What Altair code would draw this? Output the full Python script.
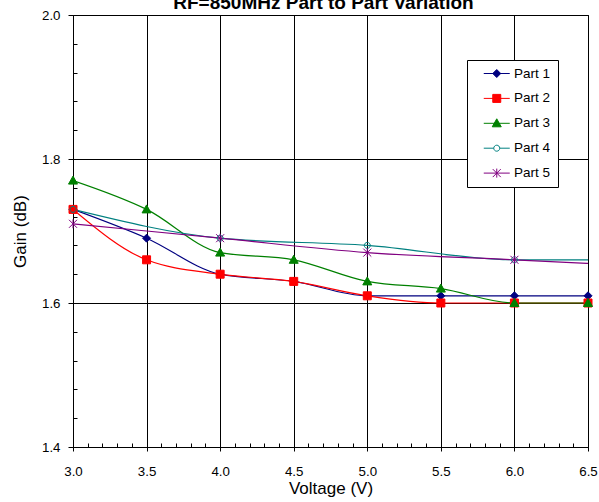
import altair as alt
import pandas as pd

# ---- data ----
volts_a = [3.0, 3.5, 4.0, 4.5, 5.0, 5.5, 6.0, 6.5]
part1 = [1.73, 1.69, 1.64, 1.63, 1.61, 1.61, 1.61, 1.61]
part2 = [1.73, 1.66, 1.64, 1.63, 1.61, 1.60, 1.60, 1.60]
part3 = [1.77, 1.73, 1.67, 1.66, 1.63, 1.62, 1.60, 1.60]
volts_b = [3.0, 4.0, 5.0, 6.0, 7.0]
part4 = [1.73, 1.69, 1.68, 1.66, 1.66]
part5 = [1.71, 1.69, 1.67, 1.66, 1.65]

parts = ["Part 1", "Part 2", "Part 3", "Part 4", "Part 5"]
strokes = ["#000080", "#FF0000", "#008000", "#008080", "#800080"]
fills = ["#000080", "#FF0000", "#008000", "transparent", "#800080"]
legend_fills = ["#000080", "#FF0000", "#008000", "#FFFFFF", "#800080"]

major_x = [3.0, 3.5, 4.0, 4.5, 5.0, 5.5, 6.0, 6.5]
minor_x = [round(3.0 + 0.1 * i, 1) for i in range(36) if i % 5 != 0]
major_y = [1.4, 1.6, 1.8, 2.0]
minor_y = [round(1.4 + 0.04 * i, 2) for i in range(16) if i % 5 != 0]

# marker glyphs (unit paths)
diamond = "M0,-0.8L0.8,0L0,0.8L-0.8,0Z"
square = "M-0.8,-0.8H0.8V0.8H-0.8Z"
triangle = "M0,-0.9L0.9,0.7H-0.9Z"
circle = "M-0.6,0A0.6,0.6 0 1,0 0.6,0A0.6,0.6 0 1,0 -0.6,0Z"
asterisk = "M-0.8,-0.8L0.8,0.8M-0.8,0.8L0.8,-0.8M0,-0.9V0.9"
marker_paths = [diamond, square, triangle, circle, asterisk]
seg = "M-2.6,0H2.6"
legend_paths = [seg + diamond, seg + square, seg + triangle,
                "M-2.6,0H-0.6M0.6,0H2.6" + circle, seg + asterisk]

rows = []
for name, xs, ys in [("Part 1", volts_a, part1), ("Part 2", volts_a, part2),
                     ("Part 3", volts_a, part3), ("Part 4", volts_b, part4),
                     ("Part 5", volts_b, part5)]:
    for xv, yv in zip(xs, ys):
        rows.append({"Voltage": xv, "Gain": yv, "Part": name})
df = pd.DataFrame(rows)

FONT = "Liberation Sans"
x_scale = alt.Scale(domain=[3.0, 6.5], nice=False, zero=False)
y_scale = alt.Scale(domain=[1.4, 2.0], nice=False, zero=False)


def sscale():
    return alt.Scale(domain=parts, range=strokes)


lines = alt.Chart(df).mark_line(interpolate="monotone", strokeWidth=1.2, clip=True).encode(
    x=alt.X("Voltage:Q", scale=x_scale,
            axis=alt.Axis(orient="bottom", values=major_x, format=".1f", title="Voltage (V)",
                          grid=True, gridColor="black", gridOpacity=1, gridWidth=1,
                          domain=False, ticks=True, tickSize=4, tickColor="black",
                          labelFont=FONT, labelFontSize=13.3, labelColor="black",
                          labelPadding=13, labelFlush=False, labelOverlap=False,
                          titleFont=FONT, titleFontSize=17, titleFontWeight="normal",
                          titleColor="black", titlePadding=3)),
    y=alt.Y("Gain:Q", scale=y_scale,
            axis=alt.Axis(orient="left", values=major_y, format=".1f", title="Gain (dB)",
                          grid=True, gridColor="black", gridOpacity=1, gridWidth=1,
                          domain=False, ticks=True, tickSize=5, tickColor="black",
                          labelFont=FONT, labelFontSize=13.3, labelColor="black",
                          labelPadding=8, labelFlush=False, labelOverlap=False,
                          titleFont=FONT, titleFontSize=17, titleFontWeight="normal",
                          titleColor="black", titlePadding=12)),
    stroke=alt.Stroke("Part:N", scale=sscale(), legend=None),
)

points = alt.Chart(df).transform_filter("datum.Voltage <= 6.5").mark_point(
    size=100, opacity=1, strokeWidth=1
).encode(
    x=alt.X("Voltage:Q", scale=x_scale,
            axis=alt.Axis(orient="bottom", values=minor_x, labels=False, grid=False,
                          domain=False, ticks=True, tickSize=4, tickColor="black",
                          offset=-4, title=None)),
    y=alt.Y("Gain:Q", scale=y_scale,
            axis=alt.Axis(orient="left", values=minor_y, labels=False, grid=False,
                          domain=False, ticks=True, tickSize=4, tickColor="black",
                          offset=-4, title=None)),
    stroke=alt.Stroke("Part:N", scale=sscale(), legend=None),
    fill=alt.Fill("Part:N", scale=alt.Scale(domain=parts, range=fills), legend=None),
    shape=alt.Shape("Part:N", scale=alt.Scale(domain=parts, range=marker_paths), legend=None),
)

legend = alt.Legend(
    title=None, orient="none", legendX=394, legendY=45, direction="vertical",
    fillColor="white", strokeColor="black", padding=7,
    labelFont=FONT, labelFontSize=13.5, labelColor="black",
    symbolSize=100, symbolStrokeWidth=1, symbolOffset=16, labelOffset=10.5,
    symbolOpacity=1, rowPadding=10.9, clipHeight=13,
    labelExpr="datum.label + '\u00a0\u00a0'",
)

legend_layer = alt.Chart(df).transform_filter("false").mark_point(
    size=100, opacity=1, strokeWidth=1
).encode(
    x=alt.X("Voltage:Q", scale=x_scale, axis=None),
    y=alt.Y("Gain:Q", scale=y_scale, axis=None),
    stroke=alt.Stroke("Part:N", scale=sscale(), legend=legend),
    fill=alt.Fill("Part:N", scale=alt.Scale(domain=parts, range=legend_fills), legend=legend),
    shape=alt.Shape("Part:N", scale=alt.Scale(domain=parts, range=legend_paths), legend=legend),
)

chart = alt.layer(lines, points, legend_layer).resolve_axis(
    x="independent", y="independent"
).resolve_scale(
    stroke="independent", fill="independent", shape="independent"
).properties(
    width=515, height=432,
    padding={"left": 73, "top": 15, "right": 11, "bottom": 55},
    autosize=alt.AutoSizeParams(type="none"),
    title=alt.Title("RF=850MHz Part to Part Variation", font=FONT, fontSize=19,
                    fontWeight="bold", color="black", anchor="middle",
                    baseline="alphabetic", offset=0, dx=-7, dy=20),
).configure_view(stroke="black", strokeWidth=1)

chart.save("out.html", embed_options={"renderer": "svg", "actions": False})
